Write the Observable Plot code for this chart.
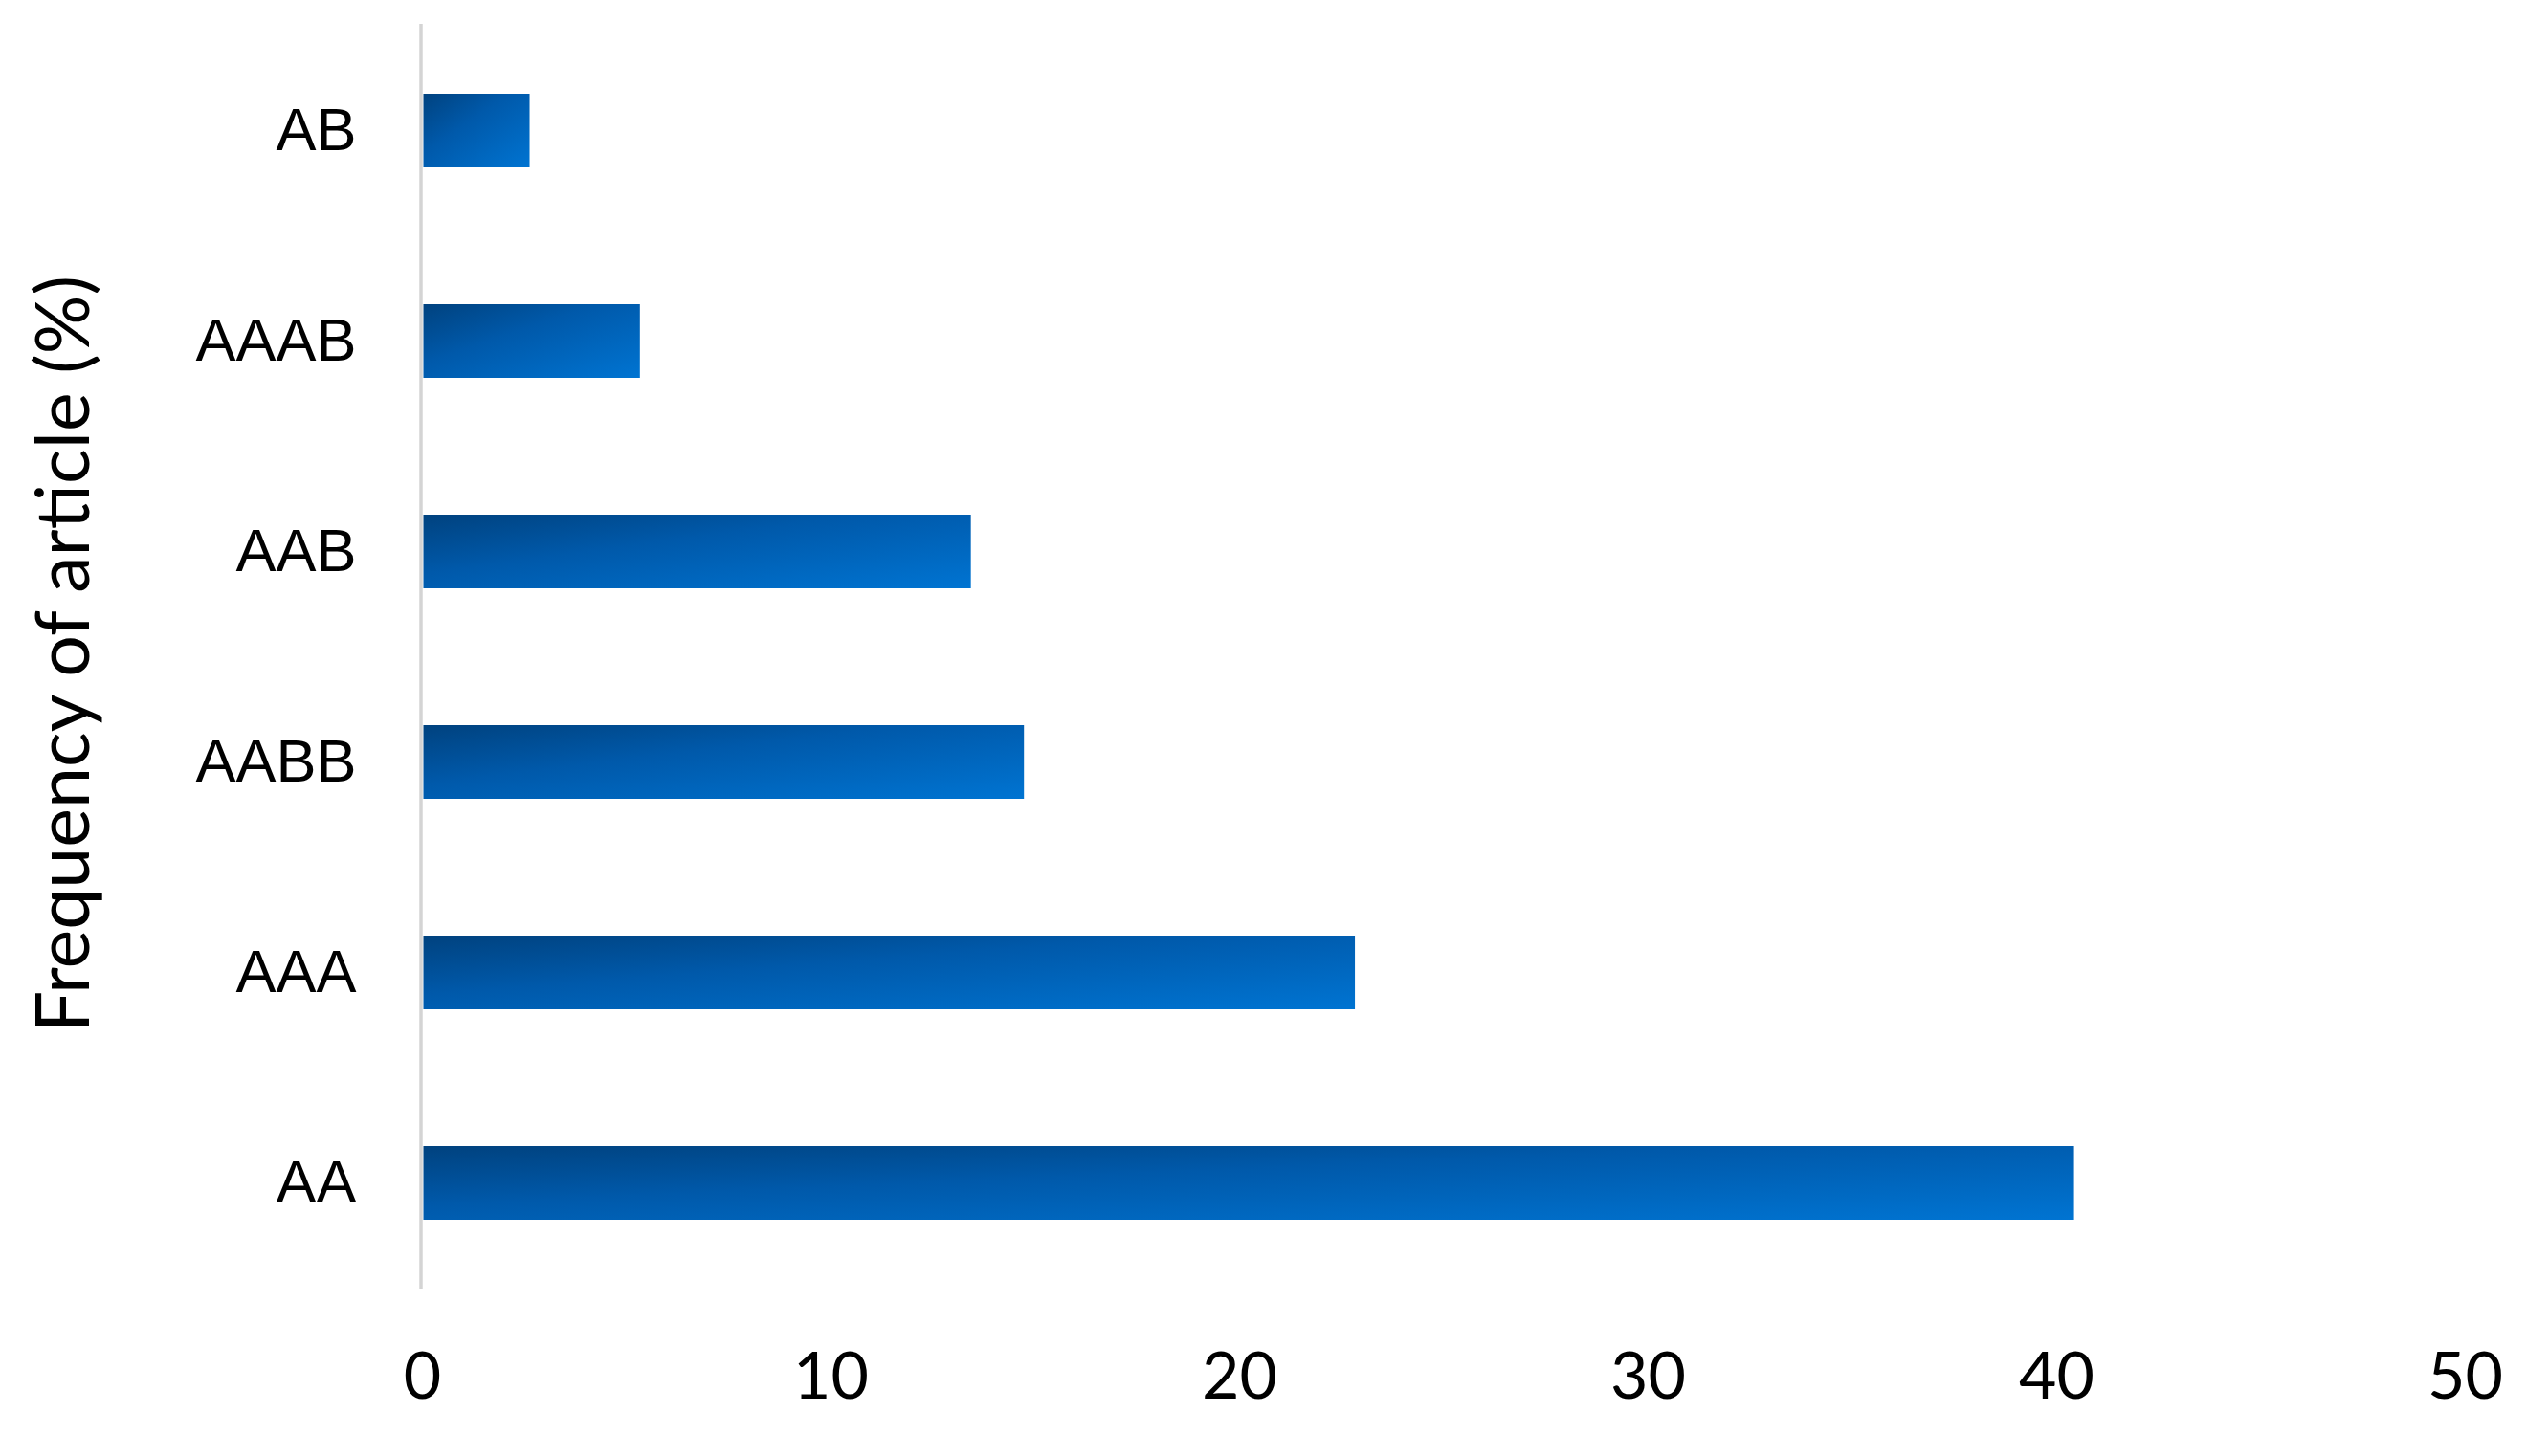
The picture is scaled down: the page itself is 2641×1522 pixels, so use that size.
<!DOCTYPE html>
<html>
<head>
<meta charset="utf-8">
<script src="https://cdn.jsdelivr.net/npm/d3@7"></script>
<script src="https://cdn.jsdelivr.net/npm/@observablehq/plot@0.6"></script>
<style>
  html, body { margin: 0; padding: 0; background: #ffffff; }
  #chart svg { display: block; }
</style>
</head>
<body>
<div id="chart"></div>
<script>
// Data
const categories = ["AB", "AAAB", "AAB", "AABB", "AAA", "AA"];
const values = [2.6, 5.3, 13.4, 14.7, 22.8, 40.4];
const xTicks = [0, 10, 20, 30, 40, 50];
const yTitle = "Frequency of article (%)";

const data = categories.map((c, i) => ({category: c, value: values[i]}));

const chart = Plot.plot({
  width: 2641,
  height: 1522,
  marginTop: 25,
  marginBottom: 175,
  marginLeft: 441,
  marginRight: 65,
  style: {background: "#ffffff", overflow: "visible"},
  x: {domain: [0, 50], ticks: xTicks},
  y: {domain: categories, paddingInner: 0.65, paddingOuter: 0.325},
  marks: [
    Plot.barX(data, {x: "value", y: "category", fill: "url(#barGrad)", dx: 1.5}),
    Plot.ruleX([0], {stroke: "#d4d4d4", strokeWidth: 3.5, dx: -1.5}),
    Plot.axisX({ticks: xTicks, tickSize: 0, tickPadding: 66, fontSize: 68, fontFamily: "Lato", fill: "#000000", label: null}),
    Plot.axisY({tickSize: 0, tickPadding: 69, fontSize: 63, fontFamily: "Liberation Sans", fill: "#000000", label: null}),
    Plot.text([yTitle], {frameAnchor: "left", textAnchor: "middle", rotate: -90, dx: -373, dy: -3, fontSize: 77, fontFamily: "Lato", fill: "#000000"})
  ]
});

// gradient definition used by the bars
const ns = "http://www.w3.org/2000/svg";
const defs = document.createElementNS(ns, "defs");
const grad = document.createElementNS(ns, "linearGradient");
grad.setAttribute("id", "barGrad");
grad.setAttribute("x1", "0"); grad.setAttribute("y1", "0");
grad.setAttribute("x2", "1"); grad.setAttribute("y2", "1");
[["0", "#00427f"], ["0.4", "#0059aa"], ["1", "#0074d2"]].forEach(([o, c]) => {
  const s = document.createElementNS(ns, "stop");
  s.setAttribute("offset", o); s.setAttribute("stop-color", c);
  grad.appendChild(s);
});
defs.appendChild(grad);
chart.insertBefore(defs, chart.firstChild);

document.getElementById("chart").appendChild(chart);
</script>
</body>
</html>
